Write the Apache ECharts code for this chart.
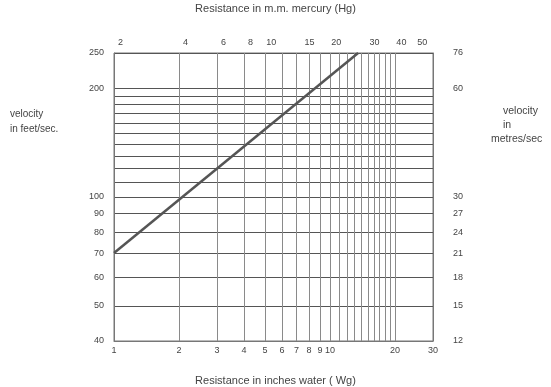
<!DOCTYPE html>
<html>
<head>
<meta charset="utf-8">
<script src="https://cdn.jsdelivr.net/npm/echarts@6/dist/echarts.min.js"></script>
<style>html,body{margin:0;padding:0;background:#fff}#c{width:551px;height:387px}</style>
</head>
<body>
<div id="c"></div>
<script>
// Data
var lineWg = [1, 13.5];        // resistance, inches water
var lineVel = [70, 250];       // velocity, feet/sec
var wgGrid = [1,2,3,4,5,6,7,8,9,10,11,12,13,14,15,16,17,18,19,20,30];
var wgLabels = [1,2,3,4,5,6,7,8,9,10,20,30];
var hgLabels = [2,4,6,8,10,15,20,30,40,50];
var velGrid = [40,50,60,70,80,90,100,110,120,130,140,150,160,170,180,190,200,250];
var velLabels = [40,50,60,70,80,90,100,200,250];
var msLabels = ['12','15','18','21','24','27','30','60','76'];

var HG_PER_WG = 1.868;
var FONT = '"Liberation Sans", Arial, sans-serif';
var txt = '#444';
var chart = echarts.init(document.getElementById('c'));
var lbl = {color: txt, fontSize: 9, fontFamily: FONT};
chart.setOption({
  animation: false,
  grid: {left: 114, right: 118, top: 53, bottom: 46, show: true, borderColor: '#777', borderWidth: 1},
  xAxis: [{
    type: 'log', min: 1, max: 30, position: 'bottom',
    axisLine: {lineStyle: {color: '#777'}},
    axisTick: {show: false, customValues: wgGrid},
    splitLine: {show: true, lineStyle: {color: '#8a8a8a', width: 1}},
    minorSplitLine: {show: false},
    axisLabel: Object.assign({customValues: wgLabels, margin: 5}, lbl)
  }, {
    type: 'log', min: HG_PER_WG, max: 30 * HG_PER_WG, position: 'top',
    axisLine: {show: false},
    axisTick: {show: false},
    splitLine: {show: false},
    axisLabel: Object.assign({customValues: hgLabels, margin: 6}, lbl)
  }],
  yAxis: [{
    type: 'log', min: 40, max: 250, position: 'left',
    axisLine: {lineStyle: {color: '#777'}},
    axisTick: {show: false, customValues: velGrid},
    splitLine: {show: true, lineStyle: {color: '#555', width: 1}},
    axisLabel: Object.assign({customValues: velLabels, margin: 10}, lbl)
  }, {
    type: 'log', min: 40, max: 250, position: 'right',
    axisLine: {lineStyle: {color: '#777'}},
    axisTick: {show: false},
    splitLine: {show: false},
    axisLabel: Object.assign({customValues: velLabels, margin: 20,
      formatter: function (v) { var i = velLabels.indexOf(Math.round(v)); return i >= 0 ? msLabels[i] : ''; }}, lbl)
  }],
  graphic: [
    {type: 'text', left: 'center', top: 3, style: {text: 'Resistance in m.m. mercury (Hg)', fill: txt, font: '11px ' + FONT}},
    {type: 'text', left: 'center', top: 375, style: {text: 'Resistance in inches water ( Wg)', fill: txt, font: '11px ' + FONT}},
    {type: 'text', left: 10, top: 107, style: {text: 'velocity\nin feet/sec.', fill: txt, font: '10px ' + FONT, lineHeight: 15}},
    {type: 'text', left: 503, top: 106, style: {text: 'velocity', fill: txt, font: '10.5px ' + FONT}},
    {type: 'text', left: 503, top: 120, style: {text: 'in', fill: txt, font: '10.5px ' + FONT}},
    {type: 'text', left: 491, top: 134, style: {text: 'metres/sec', fill: txt, font: '10.5px ' + FONT}}
  ],
  series: [{
    type: 'line', xAxisIndex: 0, yAxisIndex: 0, symbol: 'none',
    lineStyle: {color: '#555', width: 2.5},
    data: lineWg.map(function (w, i) { return [w, lineVel[i]]; })
  }]
});
</script>
</body>
</html>
